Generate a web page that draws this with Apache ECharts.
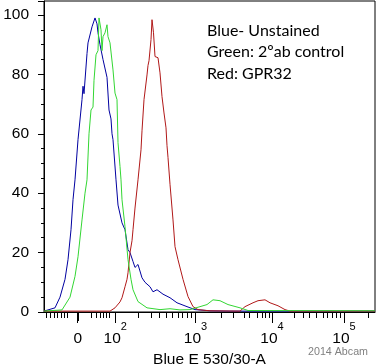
<!DOCTYPE html>
<html>
<head>
<meta charset="utf-8">
<script src="https://cdn.jsdelivr.net/npm/echarts@6/dist/echarts.min.js"></script>
<style>html,body{margin:0;padding:0;background:#fff}#c{width:379px;height:364px}</style>
</head>
<body>
<div id="c"></div>
<script>
// x in display channels (biexponential display scale), y = % of max
const blueData = [[0,0.3],[2,0.7],[11,1.4],[16,5],[21,11],[24,17.6],[27,27.7],[29,37.8],[31,44.5],[34,58],[38,71.5],[39,76],[40,73.5],[43,87],[44,90.6],[48,96],[51,99],[53,97],[54,94],[56,90],[59,85],[63,79],[65,68],[67,65],[68,60],[69,58],[72,44.5],[74,36],[78,30],[81,27.7],[84,21],[86,20],[89,17],[91,15],[94,16],[98,11.5],[101,10],[106,8.5],[109,6.8],[113,7.5],[119,6],[126,4.8],[133,3.1],[143,1.8],[151,0.8],[166,0.4],[186,0.3],[331,0.3]];
const greenData = [[0,0.3],[18,0.7],[26,5],[31,12],[34,18.6],[38,31],[41,40],[43,44.5],[45,60],[47,68],[49,69],[50,78],[52,86.6],[54,88],[55,99],[57,95],[58,88],[59,92.7],[61,94],[63,96.7],[64,92.7],[66,90.6],[69,81.5],[71,73.7],[73,71.5],[74,57],[76,49],[77,44.5],[78,37.8],[81,28.7],[84,17.6],[87,11],[89,7.5],[94,3.5],[103,1.4],[116,0.8],[126,1.1],[136,0.7],[146,0.8],[156,1.8],[163,2.5],[169,4.1],[176,3.8],[184,2.5],[196,1.4],[204,0.5],[331,0.4]];
const redData = [[0,0.3],[66,0.3],[71,1.4],[76,3.4],[78,4.8],[81,8.5],[83,11],[84,13.2],[86,20],[88,24],[89,27.7],[91,35],[94,44.5],[97,54.6],[98,61],[100,71.5],[103,79.8],[104,83],[105,84.6],[107,91.7],[108,98.4],[109,99],[109.5,94],[111,86],[113,85.6],[114,85.6],[116,80.5],[118,72.5],[120,67],[122,62],[123,56],[124,52],[126,43],[129,31],[131,22],[134,17.6],[139,11],[144,5.2],[149,1.8],[154,0.8],[166,0.4],[196,0.3],[201,1.8],[209,3.1],[214,3.8],[221,4.1],[226,3.1],[234,2.1],[241,0.8],[246,0.3],[331,0.3]];

const xMajorTicks = [33.7, 71.3, 151.5, 228, 300];
const xMajorBase = ['0', '10', '10', '10', '10'];
const xMajorExp = ['', '2', '3', '4', '5'];
const xZeroTick = [33.7];
const xMinorTicks = [2,6,10,13.7,17,20,23.7,47.7,52,56,59.3,62.7,65.3,94,107,115,122,128,134,138,143,147,177,189,200,205,213,218,221,225,250,259,265,272,279,283,288,292,296,324];
const yTicks = [0, 20, 40, 60, 80, 100];
const legendLines = ['Blue- Unstained', 'Green: 2ºab control', 'Red: GPR32'];
const xTitle = 'Blue E 530/30-A';
const credit = '2014 Abcam';

const FONT = 'Liberation Sans, Arial, sans-serif';
const chart = echarts.init(document.getElementById('c'), null, {renderer: 'canvas'});

const baseX = {
  type: 'value', min: 0, max: 331, gridIndex: 0, position: 'bottom',
  splitLine: {show: false}
};

chart.setOption({
  animation: false,
  grid: {left: 44, right: 4, top: 1, bottom: 52, show: true, borderColor: '#000', borderWidth: 1, backgroundColor: 'transparent', containLabel: false, outerBoundsMode: 'none'},
  xAxis: [
    Object.assign({}, baseX, {
      name: xTitle, nameLocation: 'middle', nameGap: 26,
      nameTextStyle: {fontFamily: FONT, fontSize: 15.5, color: '#000'},
      axisLine: {show: true, lineStyle: {color: '#000', width: 1}},
      axisTick: {show: true, length: 11, customValues: xMajorTicks, lineStyle: {color: '#000', width: 1}},
      axisLabel: {
        show: true, margin: 9, customValues: xMajorTicks,
        formatter: function (v) {
          let idx = -1;
          xMajorTicks.forEach(function (t, i) { if (Math.abs(t - v) < 0.01) idx = i; });
          if (idx < 0) return '';
          return xMajorExp[idx] ? '{b|' + xMajorBase[idx] + '}{s|' + xMajorExp[idx] + '}' : '{b|' + xMajorBase[idx] + '}';
        },
        rich: {
          b: {fontFamily: FONT, fontSize: 15.5, color: '#000', lineHeight: 26, verticalAlign: 'bottom'},
          s: {fontFamily: FONT, fontSize: 11, color: '#000', lineHeight: 11, verticalAlign: 'top'}
        }
      }
    }),
    Object.assign({}, baseX, {
      axisLine: {show: false},
      axisTick: {show: true, length: 6, customValues: xMinorTicks, lineStyle: {color: '#000', width: 1}},
      axisLabel: {show: false}
    }),
    Object.assign({}, baseX, {
      axisLine: {show: false},
      axisTick: {show: true, length: 9, customValues: xZeroTick, lineStyle: {color: '#000', width: 2}},
      axisLabel: {show: false}
    })
  ],
  yAxis: {
    type: 'value', min: 0, max: 104.7, interval: 20,
    splitLine: {show: false},
    axisLine: {show: true, lineStyle: {color: '#000', width: 1}},
    axisTick: {show: true, length: 6, lineStyle: {color: '#000'}},
    minorTick: {show: true, splitNumber: 4, length: 3, lineStyle: {color: '#000'}},
    axisLabel: {
      margin: 15, fontFamily: FONT, fontSize: 15.5, color: '#000', showMaxLabel: false,
      formatter: function (v) { return yTicks.indexOf(v) >= 0 ? String(v) : ''; }
    }
  },
  graphic: [
    {type: 'text', left: 207, top: 20, style: {text: legendLines.join('\n'), fontFamily: 'Lato, Carlito, sans-serif', fontSize: 16, lineHeight: 21.5, fill: '#000'}},
    {type: 'text', left: 308, top: 347, style: {text: credit, fontFamily: FONT, fontSize: 10.7, fill: '#808080'}}
  ],
  series: [
    {type: 'line', data: blueData, showSymbol: false, lineStyle: {color: '#0000a0', width: 1}, itemStyle: {color: '#0000a0'}},
    {type: 'line', data: redData, showSymbol: false, lineStyle: {color: '#b01818', width: 1}, itemStyle: {color: '#b01818'}},
    {type: 'line', data: greenData, showSymbol: false, lineStyle: {color: '#33d633', width: 1}, itemStyle: {color: '#33d633'}}
  ]
});
</script>
</body>
</html>
